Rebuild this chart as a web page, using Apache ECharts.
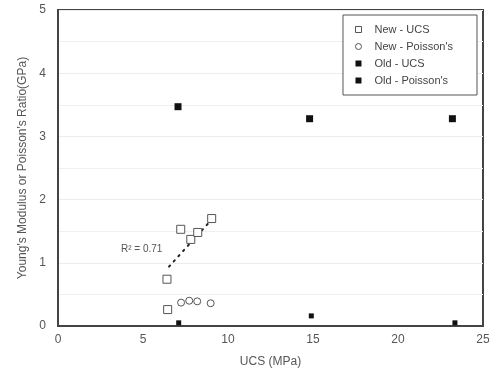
<!DOCTYPE html>
<html><head><meta charset="utf-8">
<script src="https://cdn.jsdelivr.net/npm/echarts@6/dist/echarts.min.js"></script>
<style>html,body{margin:0;padding:0;background:#fff}#c{width:504px;height:376px}</style>
</head><body><div id="c"></div>
<script>
// Data
var newUcsX = [6.45, 6.41, 7.22, 7.81, 8.22, 9.04];
var newUcsY = [0.26, 0.74, 1.53, 1.37, 1.48, 1.70];
var newPoisX = [7.24, 7.72, 8.19, 8.98];
var newPoisY = [0.37, 0.40, 0.39, 0.36];
var oldUcsX = [7.06, 14.8, 23.2];
var oldUcsY = [3.47, 3.28, 3.28];
var oldPoisX = [7.1, 14.9, 23.35];
var oldPoisY = [0.05, 0.16, 0.05];
var trendX = [6.53, 8.96];
var trendY = [0.94, 1.66];
var seriesNames = ['New - UCS', "New - Poisson's", 'Old - UCS', "Old - Poisson's"];
var r2Label = 'R\u00B2 = 0.71';

function pairs(xs, ys){ return xs.map(function(x,i){return [x, ys[i]];}); }

var font = 'Liberation Sans, Arial, sans-serif';
var chart = echarts.init(document.getElementById('c'), null, {renderer:'canvas'});
chart.setOption({
  animation:false,
  backgroundColor:'#fff',
  grid:{left:58, right:21, top:10, bottom:50, show:true, borderColor:'#444', borderWidth:2, backgroundColor:'transparent'},
  legend:{
    right:27, top:15, orient:'vertical', itemGap:6, itemWidth:6, itemHeight:6,
    padding:[9,24,9,12], borderColor:'#555', borderWidth:1, backgroundColor:'#fff',
    textStyle:{fontFamily:font, fontSize:11, color:'#444', padding:[0,0,0,8]},
    data:[
      {name:seriesNames[0], icon:'rect', itemStyle:{color:'#fff', borderColor:'#555', borderWidth:1}},
      {name:seriesNames[1], icon:'circle', itemStyle:{color:'#fff', borderColor:'#555', borderWidth:1}},
      {name:seriesNames[2], icon:'rect', itemStyle:{color:'#111'}},
      {name:seriesNames[3], icon:'rect', itemStyle:{color:'#111'}}
    ]
  },
  xAxis:{
    type:'value', min:0, max:25, interval:5,
    name:'UCS (MPa)', nameLocation:'middle', nameGap:30,
    nameTextStyle:{fontFamily:font, fontSize:12, color:'#555'},
    axisLine:{show:true, onZero:false, lineStyle:{color:'#444', width:2}},
    axisTick:{show:false},
    axisLabel:{fontFamily:font, fontSize:12, color:'#555', margin:8},
    splitLine:{show:false}
  },
  yAxis:{
    type:'value', min:0, max:5, interval:1,
    name:"Young's Modulus or Poisson's Ratio(GPa)", nameLocation:'middle', nameGap:28,
    nameTextStyle:{fontFamily:font, fontSize:12, color:'#555'},
    axisLine:{show:true, onZero:false, lineStyle:{color:'#444', width:2}},
    axisTick:{show:false},
    axisLabel:{fontFamily:font, fontSize:12, color:'#555', margin:12},
    splitLine:{show:true, lineStyle:{color:'#ececec', width:1}},
    minorTick:{show:false, splitNumber:2},
    minorSplitLine:{show:true, lineStyle:{color:'#f0f0f0', width:1}}
  },
  series:[
    {name:'trend', type:'line', data:pairs(trendX, trendY), symbol:'none', silent:true,
     lineStyle:{color:'#222', width:2, type:[1.5,5.5], cap:'round'}, z:1},
    {name:seriesNames[0], type:'scatter', data:pairs(newUcsX,newUcsY), symbol:'rect', symbolSize:8,
     itemStyle:{color:'#fff', borderColor:'#555', borderWidth:1, opacity:1}, z:3},
    {name:seriesNames[1], type:'scatter', data:pairs(newPoisX,newPoisY), symbol:'circle', symbolSize:7,
     itemStyle:{color:'#fff', borderColor:'#555', borderWidth:1, opacity:1}, z:3},
    {name:seriesNames[2], type:'scatter', data:pairs(oldUcsX,oldUcsY), symbol:'rect', symbolSize:7,
     itemStyle:{color:'#111', opacity:1}, z:3},
    {name:seriesNames[3], type:'scatter', data:pairs(oldPoisX,oldPoisY), symbol:'rect', symbolSize:5,
     itemStyle:{color:'#111', opacity:1}, z:3}
  ],
  graphic:[
    {type:'text', left:121, top:244, style:{text:r2Label, fontFamily:font, fontSize:10, fill:'#555'}}
  ]
});
</script></body></html>
